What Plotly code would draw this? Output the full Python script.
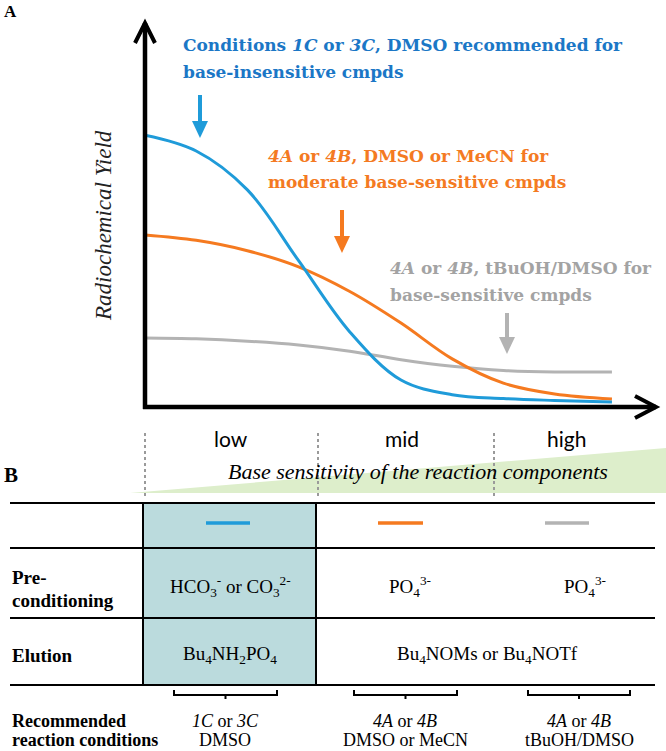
import plotly.graph_objects as go

# ---------------- data ----------------
sensitivity = [0, 10, 20, 30, 40, 50, 60, 70, 80, 91.2]
yield_blue = [70.6, 66.5, 56.4, 38.0, 19.5, 7.0, 3.2, 2.2, 1.7, 1.3]
yield_orange = [44.7, 43.3, 40.6, 36.4, 30.0, 21.8, 12.5, 6.2, 3.4, 2.1]
yield_gray = [17.9, 17.7, 17.1, 16.1, 14.5, 12.3, 10.6, 9.5, 9.1, 9.1]

sensitivity_labels = ["low", "mid", "high"]
row_labels = [["Pre-", "conditioning"], ["Elution"]]
precond = ["HCO<sub>3</sub><sup>-</sup> or CO<sub>3</sub><sup>2-</sup>",
           "PO<sub>4</sub><sup>3-</sup>", "PO<sub>4</sub><sup>3-</sup>"]
elution = ["Bu<sub>4</sub>NH<sub>2</sub>PO<sub>4</sub>",
           "Bu<sub>4</sub>NOMs or Bu<sub>4</sub>NOTf"]
rec_line1 = ["<i>1C</i> or <i>3C</i>", "<i>4A</i> or <i>4B</i>", "<i>4A</i> or <i>4B</i>"]
rec_line2 = ["DMSO", "DMSO or MeCN", "tBuOH/DMSO"]
note_blue = ["Conditions <i>1C</i> or <i>3C</i>, DMSO recommended for", "base-insensitive cmpds"]
note_orange = ["<i>4A</i> or <i>4B</i>, DMSO or MeCN for", "moderate base-sensitive cmpds"]
note_gray = ["<i>4A</i> or <i>4B</i>, tBuOH/DMSO for", "base-sensitive cmpds"]

BLUE = "#1f9bd9"
ORANGE = "#f57a20"
GRAY = "#b3b3b3"
BLUE_T = "#1b77c6"
ORANGE_T = "#f47a22"
GRAY_T = "#a3a3a3"

W, H = 666, 751
def X(px): return px / W
def Y(py): return 1 - py / H

fig = go.Figure()
for ys, c in [(yield_gray, GRAY), (yield_orange, ORANGE), (yield_blue, BLUE)]:
    fig.add_trace(go.Scatter(x=sensitivity, y=ys, mode="lines",
                             line=dict(color=c, width=3, shape="spline", smoothing=1.0),
                             showlegend=False, hoverinfo="skip"))

shapes = []
def line(x0, y0, x1, y1, color="black", width=2, dash=None):
    d = dict(type="line", xref="paper", yref="paper", x0=X(x0), y0=Y(y0), x1=X(x1), y1=Y(y1),
             line=dict(color=color, width=width))
    if dash:
        d["line"]["dash"] = dash
    shapes.append(d)

def path(pts, color="black", width=2, fill=None, close=False):
    s = "M " + " L ".join(f"{X(a):.5f},{Y(b):.5f}" for a, b in pts)
    if close:
        s += " Z"
    d = dict(type="path", xref="paper", yref="paper", path=s,
             line=dict(color=color, width=width))
    if fill:
        d["fillcolor"] = fill
        d["line"]["width"] = 0
    shapes.append(d)

# green wedge
path([(130, 493), (666, 448), (666, 493)], fill="#ddeecb", close=True)
# teal box
shapes.append(dict(type="rect", xref="paper", yref="paper", x0=X(143), x1=X(316), y0=Y(685), y1=Y(503),
                   fillcolor="#bbdbdd", line=dict(width=0), layer="below"))
# dotted separators
for px in [145, 318, 494]:
    line(px, 433, px, 497, color="#9a9a9a", width=2, dash="dot")
# table lines
for py in [503, 548, 618, 685]:
    line(10, py, 655, py, width=2.2)
for px in [143, 316]:
    line(px, 503, px, 685, width=2)
# axes
line(145, 409, 145, 23, width=4.5)
line(143, 407, 656, 407, width=4.5)
path([(135, 43), (145, 23), (155, 43)], width=4)
path([(635, 396), (656, 407), (635, 418)], width=4)
# pointer arrows
for px, y0, y1, c in [(200, 95, 122, BLUE), (342, 210, 237, ORANGE), (507, 313, 338, GRAY)]:
    line(px, y0, px, y1, color=c, width=4)
    path([(px - 8, y1 - 1), (px + 8, y1 - 1), (px, y1 + 16)], fill=c, close=True)
# legend segments
for x0, x1, c in [(206, 250, BLUE), (378, 423, ORANGE), (545, 589, GRAY)]:
    line(x0, 523, x1, 523, color=c, width=3.5)
# brackets
for x0, x1 in [(174, 277), (354, 457), (528, 630)]:
    path([(x0, 690), (x0, 695), (x1, 695), (x1, 690)], width=2)
    line((x0 + x1) / 2, 695, (x0 + x1) / 2, 699, width=2)

ann = []
def text(t, px, py, size, color="black", family="Liberation Serif", anchor="center"):
    ann.append(dict(text=t, x=X(px), y=Y(py), xref="paper", yref="paper", showarrow=False,
                    xanchor=anchor, yanchor="middle",
                    font=dict(size=size, color=color, family=family)))

BOLD = "DejaVu Serif"
NS = 17
text("<b>A</b>", 2, 11, 17, anchor="left")
text("<b>B</b>", 2, 475, 21, anchor="left")
text("<i>Radiochemical Yield</i>", 104, 226, 23, color="#222")
ann[-1]["textangle"] = -90
text("<b>" + note_blue[0] + "</b>", 181, 45, NS, BLUE_T, BOLD, "left")
text("<b>" + note_blue[1] + "</b>", 181, 72, NS, BLUE_T, BOLD, "left")
text("<b>" + note_orange[0] + "</b>", 266, 156, NS, ORANGE_T, BOLD, "left")
text("<b>" + note_orange[1] + "</b>", 266, 182, NS, ORANGE_T, BOLD, "left")
text("<b>" + note_gray[0] + "</b>", 388, 268, NS, GRAY_T, BOLD, "left")
text("<b>" + note_gray[1] + "</b>", 388, 295, NS, GRAY_T, BOLD, "left")

for t, px in zip(sensitivity_labels, [231, 402, 566]):
    text(t, px, 438, 21, "black", "Lato")
text("<i>Base sensitivity of the reaction components</i>", 418, 471, 22, "black")

text("<b>" + row_labels[0][0] + "</b>", 10, 577, 19, anchor="left")
text("<b>" + row_labels[0][1] + "</b>", 10, 600, 19, anchor="left")
text("<b>" + row_labels[1][0] + "</b>", 10, 655, 19, anchor="left")
for t, px in zip(precond, [230, 410, 585]):
    text(t, px, 586, 19)
for t, px in zip(elution, [230, 487]):
    text(t, px, 655, 19)
text("<b>Recommended</b>", 10, 721, 18, anchor="left")
text("<b>reaction conditions</b>", 10, 740, 18, anchor="left")
for t1, t2, px in zip(rec_line1, rec_line2, [225, 405, 579]):
    text(t1, px, 721, 18)
    text(t2, px, 740, 18)

fig.update_layout(
    width=W, height=H, margin=dict(l=0, r=0, t=0, b=0),
    paper_bgcolor="white", plot_bgcolor="rgba(0,0,0,0)",
    xaxis=dict(domain=[X(145), X(657)], range=[0, 100], visible=False, fixedrange=True),
    yaxis=dict(domain=[Y(407), Y(22)], range=[0, 100], visible=False, fixedrange=True),
    shapes=shapes, annotations=ann, showlegend=False,
)
fig.write_html("out.html", config={"displayModeBar": False},
               post_script="document.body.style.margin='0';")
